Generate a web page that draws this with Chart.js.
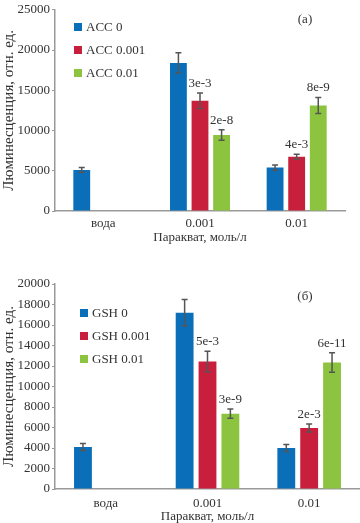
<!DOCTYPE html>
<html>
<head>
<meta charset="utf-8">
<script src="https://cdn.jsdelivr.net/npm/chart.js@4.4.1/dist/chart.umd.min.js"></script>
<style>
html,body{margin:0;padding:0;background:#fff;overflow:hidden;}
#c1{position:absolute;left:0;top:0;}
#c2{position:absolute;left:0;top:244px;}
</style>
</head>
<body>
<canvas id="c1" width="360" height="244"></canvas>
<canvas id="c2" width="360" height="279"></canvas>
<script>
// ---- data ----
const categories = ['вода', '0.001', '0.01'];
const xTitle = 'Паракват, моль/л';
const yTitle = 'Люминесценция, отн. ед.';

const accLabels = ['ACC 0', 'ACC 0.001', 'ACC 0.01'];
const acc0 = [5100, 18400, 5400];
const acc0Err = [300, 1250, 330];
const acc001 = [null, 13700, 6750];
const acc001Err = [null, 950, 300];
const acc01 = [null, 9450, 13100];
const acc01Err = [null, 650, 1000];
const acc001P = [null, '3e-3', '4e-3'];
const acc01P = [null, '2e-8', '8e-9'];
const accTicks = [0, 5000, 10000, 15000, 20000, 25000];

const gshLabels = ['GSH 0', 'GSH 0.001', 'GSH 0.01'];
const gsh0 = [4100, 17200, 4000];
const gsh0Err = [350, 1300, 330];
const gsh001 = [null, 12450, 5950];
const gsh001Err = [null, 1000, 400];
const gsh01 = [null, 7350, 12350];
const gsh01Err = [null, 450, 950];
const gsh001P = [null, '5e-3', '2e-3'];
const gsh01P = [null, '3e-9', '6e-11'];
const gshTicks = [0, 2000, 4000, 6000, 8000, 10000, 12000, 14000, 16000, 18000, 20000];

const colors = ['#0a6fb8', '#c81f3d', '#8cc43f'];
const serif = "'Liberation Serif', 'DejaVu Serif', serif";
const textColor = '#333';

const overlay = {
  id: 'overlay',
  afterDatasetsDraw(chart, args, opts) {
    const ctx = chart.ctx;
    const y = chart.scales.y;
    ctx.save();
    chart.data.datasets.forEach((ds, di) => {
      const meta = chart.getDatasetMeta(di);
      meta.data.forEach((bar, i) => {
        const v = ds.data[i];
        const e = opts.errors[di][i];
        if (v == null || e == null) return;
        const yt = y.getPixelForValue(v + e);
        const yb = y.getPixelForValue(v - e);
        ctx.strokeStyle = '#555';
        ctx.lineWidth = 1.5;
        ctx.beginPath();
        ctx.moveTo(bar.x, yt); ctx.lineTo(bar.x, yb);
        ctx.moveTo(bar.x - 3, yt); ctx.lineTo(bar.x + 3, yt);
        ctx.moveTo(bar.x - 3, yb); ctx.lineTo(bar.x + 3, yb);
        ctx.stroke();
        const p = opts.pvals[di] ? opts.pvals[di][i] : null;
        if (p) {
          ctx.fillStyle = textColor;
          ctx.font = '13px ' + serif;
          ctx.textAlign = 'center';
          ctx.textBaseline = 'bottom';
          ctx.fillText(p, bar.x, yt - 3);
        }
      });
    });
    chart.data.datasets.forEach((ds, di) => {
      const cy = opts.legendY + di * 23;
      ctx.fillStyle = ds.backgroundColor;
      ctx.fillRect(opts.legendX, cy - 4, 8, 8);
      ctx.fillStyle = textColor;
      ctx.font = '13px ' + serif;
      ctx.textAlign = 'left';
      ctx.textBaseline = 'middle';
      ctx.fillText(ds.label, opts.legendX + 12, cy + 1);
    });
    ctx.fillStyle = textColor;
    ctx.font = '13px ' + serif;
    ctx.textAlign = 'center';
    ctx.textBaseline = 'middle';
    ctx.fillText(opts.panel, opts.panelX, opts.panelY);
    ctx.restore();
  }
};

function makeChart(id, labels, series, ticks, max, pad, xH, cat, tickPad, ov) {
  return new Chart(document.getElementById(id), {
    type: 'bar',
    data: {
      labels: categories,
      datasets: series.map((d, i) => ({
        label: labels[i], data: d, backgroundColor: colors[i],
        borderWidth: 0, categoryPercentage: cat, barPercentage: 0.78
      }))
    },
    options: {
      responsive: false, animation: false,
      layout: { padding: pad },
      plugins: { legend: { display: false }, tooltip: { enabled: false }, overlay: ov },
      scales: {
        x: {
          grid: { display: false },
          border: { display: true, color: '#999', width: 1.5 },
          ticks: { color: textColor, font: { family: serif, size: 13 }, padding: tickPad },
          title: { display: true, text: xTitle, color: textColor, font: { family: serif, size: 13, lineHeight: 1 }, padding: { top: 2, bottom: 0 } },
          afterFit: s => { s.height = xH; }
        },
        y: {
          min: 0, max: max,
          afterBuildTicks: s => { s.ticks = ticks.map(v => ({ value: v })); },
          grid: { display: true, drawOnChartArea: false, drawTicks: true, tickLength: 3, color: '#999' },
          border: { display: true, color: '#999', width: 1.5 },
          ticks: { color: textColor, font: { family: serif, size: 13 }, padding: 2, callback: v => String(v) },
          title: { display: true, text: yTitle, color: textColor, font: { family: serif, size: 15 }, padding: { top: 0, bottom: 0 } },
          afterFit: s => { s.width = 55; }
        }
      }
    },
    plugins: [overlay]
  });
}

makeChart('c1', accLabels, [acc0, acc001, acc01], accTicks, 25000,
  { top: 7, right: 15, left: 0, bottom: 0 }, 33, 0.67, -3,
  { errors: [acc0Err, acc001Err, acc01Err], pvals: [null, acc001P, acc01P],
    legendX: 74, legendY: 27, panel: '(а)', panelX: 305, panelY: 20 });

makeChart('c2', gshLabels, [gsh0, gsh001, gsh01], gshTicks, 20000,
  { top: 40, right: 0, left: 0, bottom: 0 }, 34, 0.675, -1,
  { errors: [gsh0Err, gsh001Err, gsh01Err], pvals: [null, gsh001P, gsh01P],
    legendX: 80, legendY: 69, panel: '(б)', panelX: 305, panelY: 53 });
</script>
</body>
</html>
